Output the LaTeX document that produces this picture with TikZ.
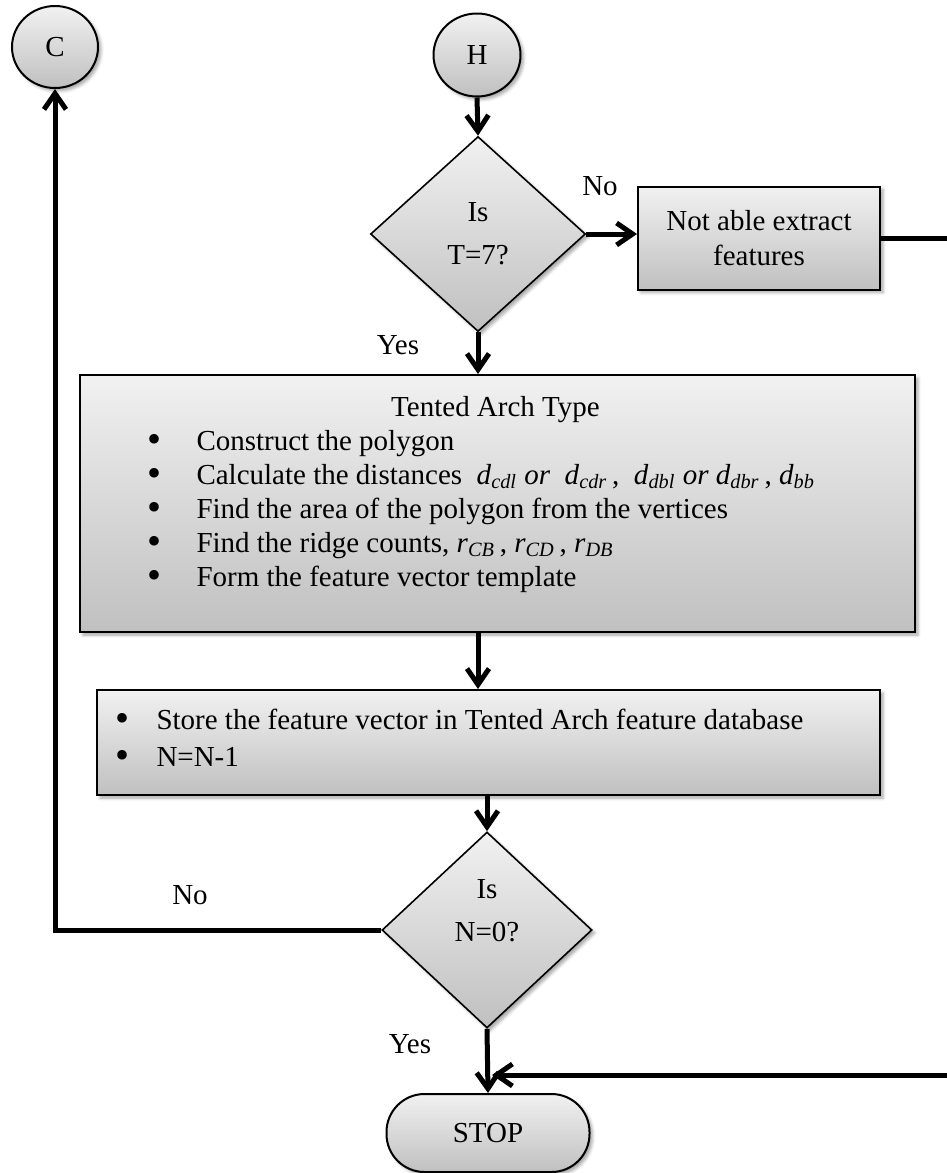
\documentclass[tikz,border=0pt]{standalone}
\usepackage{fontspec}
\setmainfont{Liberation Serif}
\usetikzlibrary{arrows.meta,calc,shapes.geometric,shadows.blur}
\definecolor{TopClr}{RGB}{241,241,241}
\definecolor{BotClr}{RGB}{192,192,192}

% italic variable with an italic subscript
\newcommand{\fvar}[2]{\textit{#1}\textsubscript{\textit{#2}}}
% a large round bullet
\newcommand{\bigdot}{\raisebox{-1.2pt}[0pt][0pt]{\fontsize{20}{20}\selectfont\textbullet}}
% one bullet line inside a box
\newcommand{\bline}[3]{\hspace*{#1}\makebox[0pt][c]{\bigdot}\hspace{#2}#3}

\tikzset{
  box/.style={draw,line width=1pt,top color=TopClr,bottom color=BotClr,
    inner sep=0pt,
    blur shadow={shadow xshift=1.5pt,shadow yshift=-1.5pt,shadow blur radius=1.5pt,shadow opacity=35}},
  decision/.style={box,diamond,line width=.8pt,align=center},
  connector/.style={box,ellipse,align=center},
  flow/.style={line width=2.5pt,-{Straight Barb[length=8pt,width=11pt]}},
  lbl/.style={inner sep=0pt}
}

\begin{document}
\begin{tikzpicture}[x=.5pt,y=-.5pt,every node/.style={font=\fontsize{14.5}{17.5}\selectfont}]
\useasboundingbox (0,0) rectangle (947,1173);
\clip (0,0) rectangle (947,1173);

% Off-page connectors
\node[connector,minimum width=43pt,minimum height=41pt] (C) at (55,47) {C};
\node[connector,minimum width=43.5pt,minimum height=41.5pt] (H) at (477,55) {H};

% First test
\node[decision,minimum width=107.5pt,minimum height=97.5pt] (T7) at (478,234) {Is\\[4pt]T=7?};
\node[box,minimum width=121pt,minimum height=51.5pt,align=center] (noextract) at (759,238)
  {Not able extract\\features};

% Feature extraction for the tented arch
\node[box,minimum width=417.5pt,minimum height=128.5pt] (arch) at (497.5,503.5) {%
  \begin{minipage}{405pt}
  \fontsize{14.5}{17}\selectfont
  \centerline{Tented Arch Type\hspace{2pt}}
  \bline{31pt}{21pt}{Construct the polygon}\par
  \bline{31pt}{21pt}{Calculate the distances \ \fvar{d}{cdl} \textit{or} \ \fvar{d}{cdr}\,, \ \fvar{d}{dbl} \textit{or} \fvar{d}{dbr}\,, \fvar{d}{bb}}\par
  \bline{31pt}{21pt}{Find the area of the polygon from the vertices}\par
  \bline{31pt}{21pt}{Find the ridge counts, \fvar{r}{CB}\,, \fvar{r}{CD}\,, \fvar{r}{DB}}\par
  \bline{31pt}{21pt}{Form the feature vector template}\par
  \vspace{9pt}
  \end{minipage}};

\node[box,minimum width=391.5pt,minimum height=52.5pt] (store) at (488.5,742.5) {%
  \begin{minipage}{380pt}
  \bline{7pt}{17pt}{Store the feature vector in Tented Arch feature database}\\[1pt]
  \bline{7pt}{17pt}{N=N-1}\par
  \vspace{5pt}
  \end{minipage}};

% Second test and end
\node[decision,minimum width=105pt,minimum height=98pt] (N0) at (487,930) {Is\\[4pt]N=0?\\[2pt]};
\node[box,rounded corners=19pt,minimum width=101.5pt,minimum height=39pt] (stop) at (488,1133) {STOP};
\coordinate (join) at (492,1075);

% Labels on the branches
\node[lbl] (no1) at (600,186) {No};
\node[lbl] (yes1) at (398,345) {Yes};
\node[lbl] (no2) at (190,895) {No};
\node[lbl] (yes2) at (410,1044) {Yes};

% Connectors
\draw[flow] (H.south) -- (T7.north);
\draw[flow] (T7.east) -- (T7.east -| noextract.west);
\draw[flow] (noextract.east) -- ++(80,0) |- (join);
\draw[flow] (T7.south) -- (T7.south |- arch.north);
\draw[flow] (arch.south -| T7.south) -- (T7.south |- store.north);
\draw[flow] (N0.north |- store.south) -- (N0.north);
\draw[flow] (N0.west) -| (C.south);
\draw[flow] (N0.south) -- (stop.north);

\end{tikzpicture}
\end{document}
